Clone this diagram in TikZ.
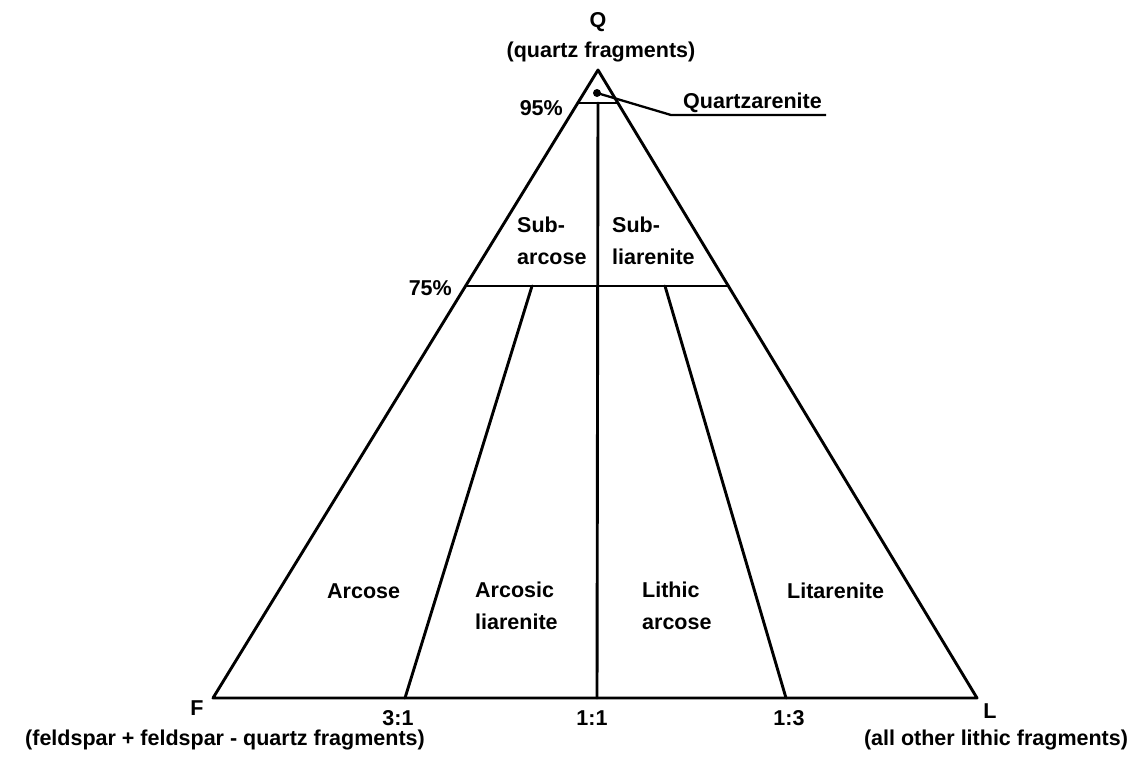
\documentclass[tikz,border=0pt]{standalone}
\usepackage{fontspec}
\setmainfont{Liberation Sans}
\begin{document}
\begin{tikzpicture}[x=1pt,y=-1pt,
  edge/.style={line width=2.9pt, line join=round, line cap=round},
  leader/.style={line width=2.3pt, line join=round},
  lbl/.style={font=\fontsize{21.5}{31.5}\selectfont\bfseries, inner sep=0pt, text=black},
  twoline/.style={lbl, align=left, anchor=north west},
]
\useasboundingbox (0,0) rectangle (1146,763);

% corners of the QFL triangle
\coordinate (Q) at (598,70);
\coordinate (F) at (213,698);
\coordinate (L) at (977,698);

% 95% and 75% quartz lines
\coordinate (a95) at (578,103);
\coordinate (b95) at (618,103);
\coordinate (a75) at (466,286);
\coordinate (b75) at (728,286);

% F:L ratio lines
\coordinate (m95) at (598,103);
\coordinate (s31) at (532,286);
\coordinate (s13) at (665,286);
\coordinate (p31) at (405,698);
\coordinate (p11) at (597,698);
\coordinate (p13) at (786,698);

\draw[edge] (Q) -- (F) -- (L) -- cycle;
\draw[edge] (a95) -- (b95);
\draw[edge] (a75) -- (b75);
\draw[edge] (m95) -- (p11);
\draw[edge] (s31) -- (p31);
\draw[edge] (s13) -- (p13);

% quartzarenite pointer
\node[circle, fill=black, inner sep=0pt, minimum size=8pt] (dot) at (597,93) {};
\node[lbl, anchor=base west] (qa) at (683,108) {Quartzarenite};
\coordinate (bend) at (671,115);
\coordinate (uend) at (826,115);
\draw[leader] (dot.center) -- (bend) -- (uend);

% apex labels
\node[lbl, anchor=base] (qlab) at (598,27) {Q};
\node[lbl, anchor=base] (qdesc) at (601,57) {(quartz fragments)};
\node[lbl, anchor=base east] (p95) at (563,115) {95\%};
\node[lbl, anchor=base east] (p75) at (452,295) {75\%};

% field names
\node[twoline] (subark) at (517,217) {Sub-\\arcose};
\node[twoline] (sublit) at (612,217) {Sub-\\liarenite};
\node[lbl, anchor=base west] (arkose) at (327,598) {Arcose};
\node[twoline] (arklit) at (475,582) {Arcosic\\liarenite};
\node[twoline] (litark) at (642,582) {Lithic\\arcose};
\node[lbl, anchor=base west] (litar) at (787,598) {Litarenite};

% base labels
\node[lbl, anchor=base] (flab) at (197,715) {F};
\node[lbl, anchor=base] (r31) at (398,725) {3:1};
\node[lbl, anchor=base] (r11) at (592,725) {1:1};
\node[lbl, anchor=base] (r13) at (789,725) {1:3};
\node[lbl, anchor=base] (llab) at (990,718) {L};
\node[lbl, anchor=base] (fdesc) at (225,745) {(feldspar + feldspar - quartz fragments)};
\node[lbl, anchor=base] (ldesc) at (996,745) {(all other lithic fragments)};
\end{tikzpicture}
\end{document}
